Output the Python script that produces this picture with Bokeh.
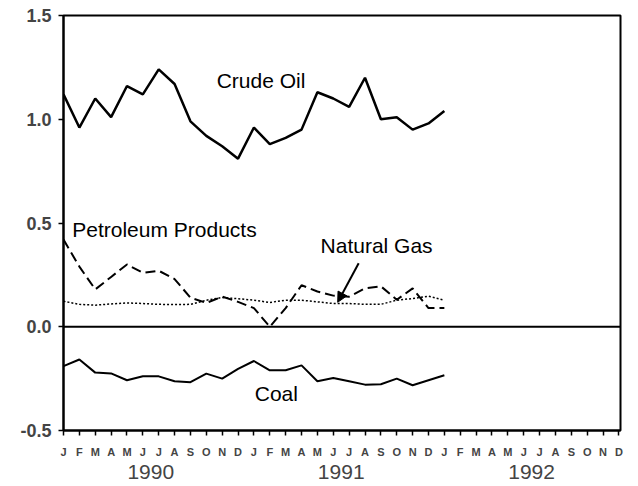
from bokeh.plotting import figure
from bokeh.models import Range1d, FixedTicker, LinearAxis, Span, Label, Arrow, NormalHead
from bokeh.embed import file_html
from bokeh.resources import INLINE

# ---- data ----
month_letters = ["J", "F", "M", "A", "M", "J", "J", "A", "S", "O", "N", "D"]
years = ["1990", "1991", "1992"]
n_months_axis = 36
month_index = list(range(25))  # Jan 1990 .. Jan 1992

crude_oil = [1.12, 0.96, 1.10, 1.01, 1.16, 1.12, 1.24, 1.17, 0.99, 0.92, 0.87, 0.81,
             0.96, 0.88, 0.91, 0.95, 1.13, 1.10, 1.06, 1.20, 1.00, 1.01, 0.95, 0.98, 1.04]
petroleum_products = [0.42, 0.29, 0.18, 0.24, 0.30, 0.26, 0.27, 0.23, 0.14, 0.115, 0.145, 0.12,
                      0.09, 0.00, 0.09, 0.20, 0.17, 0.15, 0.145, 0.185, 0.195, 0.13, 0.185, 0.09, 0.09]
natural_gas = [0.123, 0.108, 0.104, 0.11, 0.115, 0.112, 0.108, 0.107, 0.108, 0.128, 0.141, 0.135,
               0.128, 0.117, 0.128, 0.128, 0.12, 0.112, 0.112, 0.108, 0.108, 0.128, 0.136, 0.147, 0.128]
coal = [-0.19, -0.158, -0.221, -0.225, -0.258, -0.239, -0.239, -0.263, -0.267, -0.226, -0.25, -0.203,
        -0.165, -0.21, -0.21, -0.186, -0.263, -0.247, -0.263, -0.279, -0.277, -0.25, -0.282, -0.258, -0.234]

y_ticks = [-0.5, 0.0, 0.5, 1.0, 1.5]
y_tick_labels = ["-0.5", "0.0", "0.5", "1.0", "1.5"]
year_centers = [5.5, 17.5, 29.5]

FONT = "Liberation Sans"

p = figure(width=638, height=486, output_backend="svg", toolbar_location=None,
           x_range=Range1d(0, 35.1), y_range=Range1d(-0.5, 1.5),
           x_axis_location=None, y_axis_location=None,
           min_border_left=63, min_border_right=18, min_border_top=15, min_border_bottom=56)
p.xgrid.visible = False
p.ygrid.visible = False
p.outline_line_color = "black"
p.outline_line_width = 2
p.background_fill_color = "white"
p.border_fill_color = "white"

# y axis
yaxis = LinearAxis(ticker=FixedTicker(ticks=y_ticks),
                   major_label_overrides={t: l for t, l in zip(y_ticks, y_tick_labels)})
yaxis.axis_line_width = 2
yaxis.major_tick_line_width = 1.5
yaxis.major_tick_out = 5
yaxis.major_tick_in = 0
yaxis.minor_tick_line_color = None
yaxis.major_label_text_font = FONT
yaxis.major_label_text_font_style = "bold"
yaxis.major_label_text_font_size = "18px"
yaxis.major_label_standoff = 7
p.add_layout(yaxis, "left")

# x axis (months)
ticks = list(range(n_months_axis))
xaxis = LinearAxis(ticker=FixedTicker(ticks=ticks),
                   major_label_overrides={i: month_letters[i % 12] for i in ticks})
xaxis.axis_line_width = 2
xaxis.major_tick_line_width = 1.5
xaxis.major_tick_out = 5
xaxis.major_tick_in = 0
xaxis.minor_tick_line_color = None
xaxis.major_label_text_font = FONT
xaxis.major_label_text_font_style = "bold"
xaxis.major_label_text_font_size = "11px"
xaxis.major_label_standoff = 10
p.add_layout(xaxis, "below")

# x axis (years)
yearaxis = LinearAxis(ticker=FixedTicker(ticks=year_centers),
                      major_label_overrides={c: y for c, y in zip(year_centers, years)})
yearaxis.axis_line_color = None
yearaxis.major_tick_line_color = None
yearaxis.minor_tick_line_color = None
yearaxis.major_tick_out = 0
yearaxis.major_tick_in = 0
yearaxis.major_label_text_font = FONT
yearaxis.major_label_text_font_size = "21px"
yearaxis.major_label_standoff = 4
p.add_layout(yearaxis, "below")

# zero line
p.add_layout(Span(location=0, dimension="width", line_color="black", line_width=2))

# series
p.line(month_index, crude_oil, line_color="black", line_width=2.5)
p.line(month_index, petroleum_products, line_color="black", line_width=2, line_dash="10 5")
p.line(month_index, natural_gas, line_color="black", line_width=1.5, line_dash="2 2")
p.line(month_index, coal, line_color="black", line_width=2)

# series labels
def add_lab(x, y, txt):
    p.add_layout(Label(x=x, y=y, text=txt, text_baseline="middle", text_align="left",
                       text_font=FONT, text_font_size="21px", text_color="black"))

add_lab(9.65, 1.188, "Crude Oil")
add_lab(0.55, 0.47, "Petroleum Products")
add_lab(16.2, 0.393, "Natural Gas")
add_lab(12.05, -0.32, "Coal")

p.add_layout(Arrow(end=NormalHead(size=10, fill_color="black", line_color="black"),
                   x_start=18.6, y_start=0.306, x_end=17.28, y_end=0.118,
                   line_color="black", line_width=2))

open("out.html", "w").write(file_html(p, INLINE))
